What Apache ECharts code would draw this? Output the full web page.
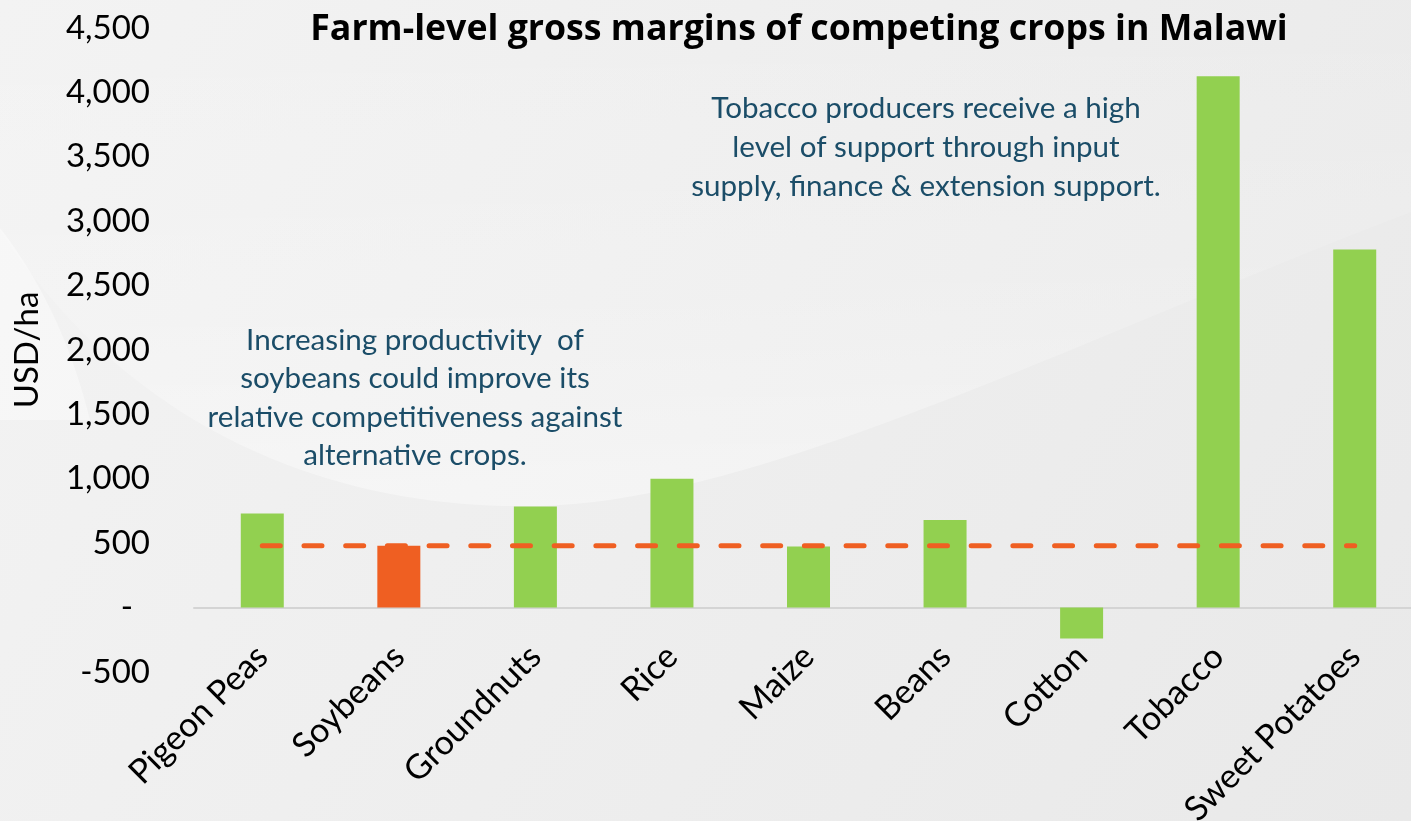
<!DOCTYPE html>
<html>
<head>
<meta charset="utf-8">
<script src="https://cdn.jsdelivr.net/npm/echarts@6/dist/echarts.min.js"></script>
<style>
html,body{margin:0;padding:0;width:1411px;height:821px;overflow:hidden;background:#efefef;}
#c{width:1411px;height:821px;}
</style>
</head>
<body>
<div id="c"></div>
<script>
const categories = ['Pigeon Peas','Soybeans','Groundnuts','Rice','Maize','Beans','Cotton','Tobacco','Sweet Potatoes'];
const grossMargins = [730, 480, 785, 1000, 475, 680, -240, 4125, 2780];
const highlightIndex = 1;
const soybeanLevel = [480, 480, 480, 480, 480, 480, 480, 480, 480];
const titleText = 'Farm-level gross margins of competing crops in Malawi';
const yAxisName = 'USD/ha';
const note1 = 'Increasing productivity  of\nsoybeans could improve its\nrelative competitiveness against\nalternative crops.';
const note2 = 'Tobacco producers receive a high\nlevel of support through input\nsupply, finance & extension support.';

const FONT = 'Lato, "Open Sans", sans-serif';
const TFONT = '"Open Sans", Lato, sans-serif';
const GREEN = '#92D050';
const ORANGE = '#EF5F22';
const TEAL = '#1B4D68';

// decorative background curve (sampled cubic beziers)
function bez(p0, p1, p2, p3, n) {
  const pts = [];
  for (let i = 0; i <= n; i++) {
    const t = i / n, u = 1 - t;
    pts.push([
      u*u*u*p0[0] + 3*u*u*t*p1[0] + 3*u*t*t*p2[0] + t*t*t*p3[0],
      u*u*u*p0[1] + 3*u*u*t*p1[1] + 3*u*t*t*p2[1] + t*t*t*p3[1]
    ]);
  }
  return pts;
}
const swoosh = bez([0,230],[150,460],[380,515],[560,505],40)
  .concat(bez([560,505],[780,492],[1100,330],[1411,212],40))
  .concat([[1411,0],[0,0]]);
const leftArc = bez([0,228],[40,280],[70,340],[90,420],20).concat([[0,420]]);

const chart = echarts.init(document.getElementById('c'), null, {renderer: 'canvas'});
chart.setOption({
  backgroundColor: 'transparent',
  animation: false,
  title: {
    text: titleText,
    left: 794, top: 7, textAlign: 'center',
    textStyle: {fontFamily: TFONT, fontWeight: 'bold', fontSize: 35.7, color: '#000'}
  },
  graphic: [
    {type: 'rect', z: -10, silent: true, shape: {x: 0, y: 0, width: 1411, height: 821},
     style: {fill: new echarts.graphic.LinearGradient(0, 0, 1, 1, [
       {offset: 0, color: '#f3f3f3'}, {offset: 1, color: '#e9e9e9'}])}},
    {type: 'polygon', z: -9, silent: true,
     shape: {points: swoosh},
     style: {fill: new echarts.graphic.LinearGradient(0, 0, 0, 1, [
       {offset: 0, color: 'rgba(255,255,255,0.0)'}, {offset: 0.6, color: 'rgba(255,255,255,0.15)'}, {offset: 1, color: 'rgba(255,255,255,0.4)'}])}},
    {type: 'polygon', z: -9, silent: true,
     shape: {points: leftArc},
     style: {fill: 'rgba(255,255,255,0.4)'}},
    {type: 'text', z: 10, x: 415, y: 321,
     style: {text: note1, font: '400 29.6px ' + FONT, fill: TEAL, align: 'center', lineHeight: 38.5}},
    {type: 'text', z: 10, x: 926, y: 89,
     style: {text: note2, font: '400 29.6px ' + FONT, fill: TEAL, align: 'center', lineHeight: 39}}
  ],
  grid: {left: 194, right: -12, top: 28, bottom: 149, containLabel: false, outerBoundsMode: 'none'},
  xAxis: {
    type: 'category', data: categories,
    axisLine: {show: true, onZero: true, lineStyle: {color: '#d4d4d4', width: 2}},
    axisTick: {show: false},
    axisLabel: {rotate: 45, margin: -21, interval: 0, fontFamily: FONT, fontSize: 34, color: '#000'}
  },
  yAxis: {
    type: 'value', min: -500, max: 4500, interval: 500,
    name: yAxisName, nameLocation: 'middle', nameRotate: 90, nameGap: 150,
    nameTextStyle: {fontFamily: FONT, fontSize: 33, color: '#000'},
    axisLine: {show: false}, axisTick: {show: false}, splitLine: {show: false},
    axisLabel: {
      margin: 44, fontFamily: FONT, fontSize: 33, color: '#000',
      formatter: v => v === 0 ? '-  ' : v.toLocaleString('en-US')
    }
  },
  series: [
    {type: 'bar', barWidth: 43,
     data: grossMargins.map((v, i) => ({value: v, itemStyle: {color: i === highlightIndex ? ORANGE : GREEN}})),
     z: 2},
    {type: 'line', data: soybeanLevel, symbol: 'none', z: 5,
     lineStyle: {color: ORANGE, width: 5, type: [18, 23.7], cap: 'round'}}
  ]
});
</script>
</body>
</html>
